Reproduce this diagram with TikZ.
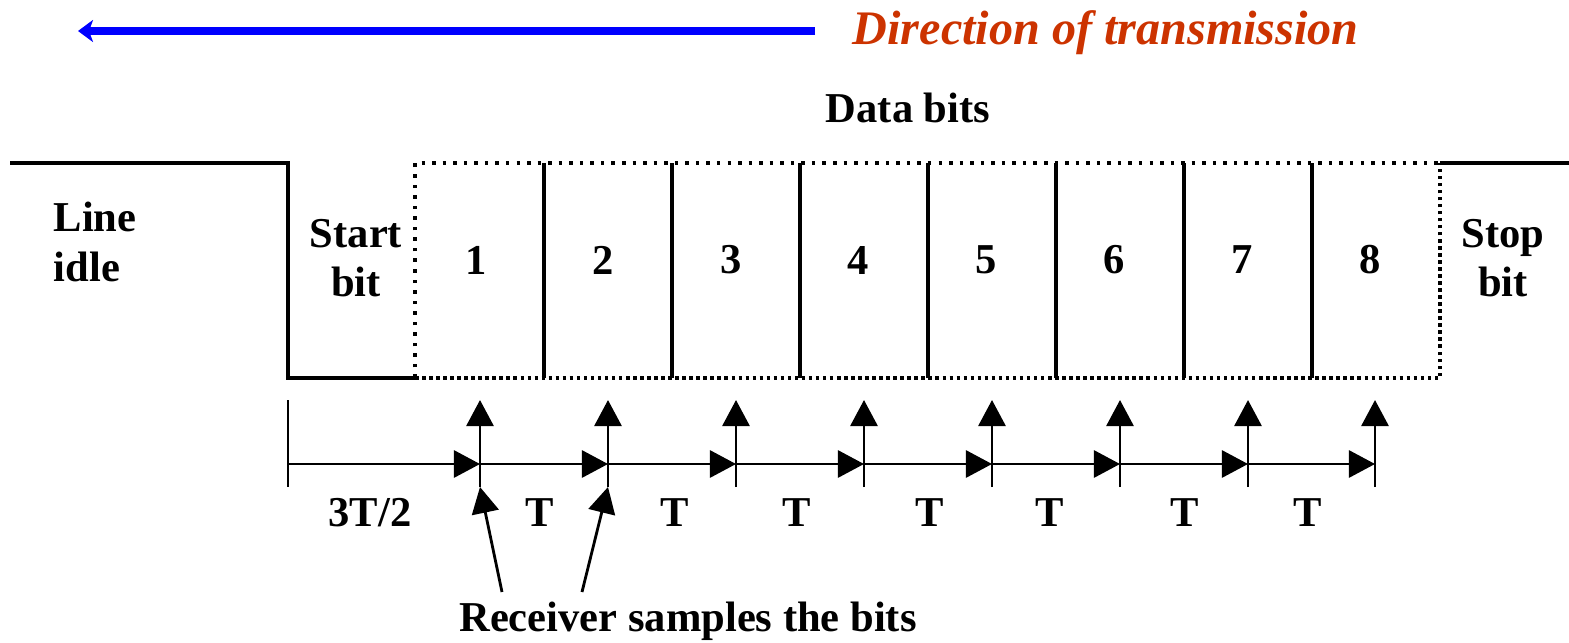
\documentclass[tikz,border=0pt]{standalone}
\usepackage{fontspec}
\setmainfont{Liberation Serif}
\usetikzlibrary{arrows.meta}

\definecolor{dirred}{HTML}{CC3300}
\tikzset{
  lbl/.style={font=\fontsize{12.1}{14}\selectfont\bfseries, align=center, inner sep=0pt},
  sig/.style={line width=1pt},
  tim/.style={line width=0.8pt, -{Triangle[length=2.6mm, width=2.7mm]}},
}

\begin{document}
\begin{tikzpicture}[x=0.01cm, y=-0.01cm]
  \useasboundingbox (0, 0) rectangle (1569, 642);
  % richtung
  \coordinate (dirA) at (815, 31);
  \coordinate (dirB) at (78, 31);
  \draw [blue, line width=2pt, -{Stealth[length=1.5mm, width=2.2mm, inset=0.4mm]}] (dirA) -- (dirB);
  \node [font=\fontsize{13.7}{16}\selectfont\bfseries\itshape, text=dirred, anchor=west, inner sep=0pt] (dir) at (852, 33) {Direction of transmission};

  % signal
  \draw [sig] (10, 163) -- (288, 163) -- (288, 378) -- (415, 378);  % ruhe + startbit
  \draw [sig, dotted] (415, 378) -- (415, 163) -- (1440, 163);  % datenrahmen
  \draw [sig, densely dotted] (415, 378) -- (1440, 378) -- (1440, 163);
  \draw [sig] (1440, 163) -- (1569, 163);  % stoppbit
  \foreach \x in {544, 672, 800, 928, 1056, 1184, 1312}
    \draw [sig] (\x, 163) -- (\x, 378);

  \node [lbl, align=left, anchor=west] (idle) at (53, 242) {Line\\idle};
  \node [lbl] (start) at (356, 258) {Start\\bit};
  \node [lbl] (stop) at (1503, 258) {Stop\\bit};
  \node [lbl] (data) at (908, 108) {Data bits};
  \foreach \n/\x in {1/476, 2/603, 3/731, 4/858, 5/986, 6/1114, 7/1242, 8/1370}
    \node [lbl] (bit\n) at (\x, 260) {\n};

  % zeitachse
  \coordinate (t0) at (288, 464);
  \draw [line width=0.8pt] (288, 400) -- (288, 487);
  \foreach \i/\x in {1/480, 2/608, 3/736, 4/864, 5/992, 6/1120, 7/1248, 8/1375} {
    \coordinate (s\i) at (\x, 464);
    \coordinate (lo\i) at (\x, 487);
    \coordinate (up\i) at (\x, 400);
    \draw [tim] (lo\i) -- (up\i);
  }
  \draw [tim] (t0) -- (s1);
  \foreach \i [evaluate=\i as \j using int(\i+1)] in {1,...,7}
    \draw [tim] (s\i) -- (s\j);

  \node [lbl] (half) at (370, 513) {3T/2};
  \foreach \x in {540, 675, 797, 930, 1050, 1185, 1308}
    \node [lbl] at (\x, 513) {T};

  % abtastung
  \node [lbl] (recv) at (688, 621) {Receiver samples the bits};
  \coordinate (ra) at (502, 592);
  \coordinate (rb) at (582, 592);
  \draw [tim] (ra) -- (lo1);
  \draw [tim] (rb) -- (lo2);
\end{tikzpicture}
\end{document}
